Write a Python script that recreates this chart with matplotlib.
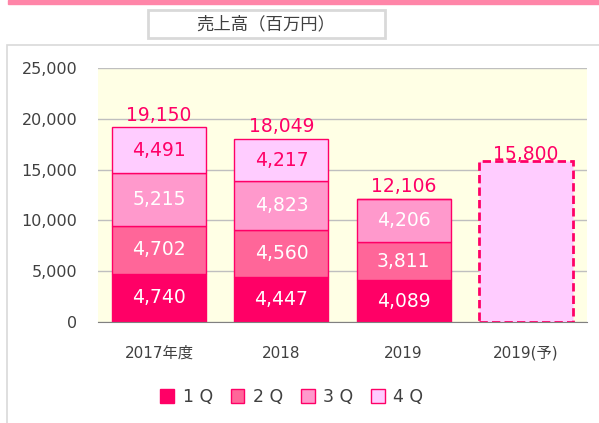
import numpy as np
import matplotlib.pyplot as plt
from matplotlib.patches import Rectangle

plt.rcParams['font.family'] = ['DejaVu Sans', 'Noto Sans CJK JP']

# =============================================================================
# Data
# =============================================================================
categories = ["2017年度", "2018", "2019", "2019(予)"]
q1 = [4740, 4447, 4089]
q2 = [4702, 4560, 3811]
q3 = [5215, 4823, 4206]
q4 = [4491, 4217, 0]
totals = [19150, 18049, 12106]
forecast = 15800
series_names = ["1Q", "2Q", "3Q", "4Q"]

colors = ["#FF0066", "#FF6699", "#FF99CC", "#FFCCFF"]
label_colors = ["white", "white", "white", "#FF0066"]
edge = "#FF0066"

# =============================================================================
# Figure
# =============================================================================
fig = plt.figure(figsize=(5.99, 4.23), dpi=100)

# pink band on top and grey frame
fig.patches.append(Rectangle((8 / 599, 1 - 4 / 423), 591 / 599, 4 / 423,
                             transform=fig.transFigure, color="#FF85A8", zorder=0))
fig.patches.append(Rectangle((7 / 599, -0.01), 0.99, 1 - 45 / 423 + 0.01,
                             transform=fig.transFigure, fill=False,
                             edgecolor="#D9D9D9", linewidth=1.2, zorder=0))
# title box
fig.patches.append(Rectangle((148 / 599, 1 - 38 / 423), 237 / 599, 28 / 423,
                             transform=fig.transFigure, facecolor="white",
                             edgecolor="#D9D9D9", linewidth=2, zorder=1))
fig.text(266 / 599, 1 - 24 / 423, "売上高（百万円）", ha="center", va="center",
         fontsize=12.5, color="#404040", family=["Noto Sans CJK JP"])

ax = fig.add_axes([98 / 599, 1 - 322 / 423, 489 / 599, 254 / 423])
ax.set_facecolor("#FFFFE5")
x = np.arange(len(categories))
w = 0.77

bottoms = np.zeros(3)
for vals, c, lc in zip([q1, q2, q3, q4], colors, label_colors):
    vals = np.array(vals)
    ax.bar(x[:3], vals, w, bottom=bottoms, color=c, edgecolor=edge,
           linewidth=1, zorder=3)
    for i in range(3):
        if vals[i] > 0:
            ax.text(x[i], bottoms[i] + vals[i] / 2, f"{vals[i]:,}", ha="center",
                    va="center", fontsize=13.5, color=lc, zorder=4)
    bottoms += vals

for i in range(3):
    ax.text(x[i], totals[i] + 250, f"{totals[i]:,}", ha="center", va="bottom",
            fontsize=13.5, color="#FF0066", zorder=4)

ax.bar(x[3], forecast, w, color="#FFCCFF", edgecolor=edge, linewidth=2,
       linestyle=(0, (3, 1.5)), zorder=3)
ax.text(x[3], forecast - 250, f"{forecast:,}", ha="center", va="bottom",
        fontsize=13.5, color="#FF0066", zorder=4)

ax.set_xlim(-0.5, 3.5)
ax.set_ylim(0, 25000)
ax.set_yticks(range(0, 25001, 5000))
ax.set_yticklabels([f"{v:,}" for v in range(0, 25001, 5000)])
ax.set_xticks(x)
ax.set_xticklabels(categories, family=["DejaVu Sans", "Noto Sans CJK JP"])
ax.tick_params(axis="y", length=0, pad=15, labelsize=11.5, labelcolor="#404040")
ax.tick_params(axis="x", length=0, pad=17, labelsize=11, labelcolor="#404040")
ax.grid(axis="y", color="#BFBFBF", linewidth=1, zorder=0)
for s in ["top", "right", "left"]:
    ax.spines[s].set_visible(False)
ax.spines["bottom"].set_color("#808080")
ax.spines["bottom"].set_zorder(5)

handles = [Rectangle((0, 0), 1, 1, facecolor=c, edgecolor=edge, linewidth=1)
           for c in colors]
fig.legend(handles, [" ".join(s) for s in series_names], loc="center",
           bbox_to_anchor=(292 / 599, 1 - 397 / 423), ncol=4, frameon=False,
           fontsize=12.5, handlelength=0.8, handleheight=0.8, handletextpad=0.5,
           columnspacing=1.0, labelcolor="#404040")

fig.savefig("out.png", dpi=100)
